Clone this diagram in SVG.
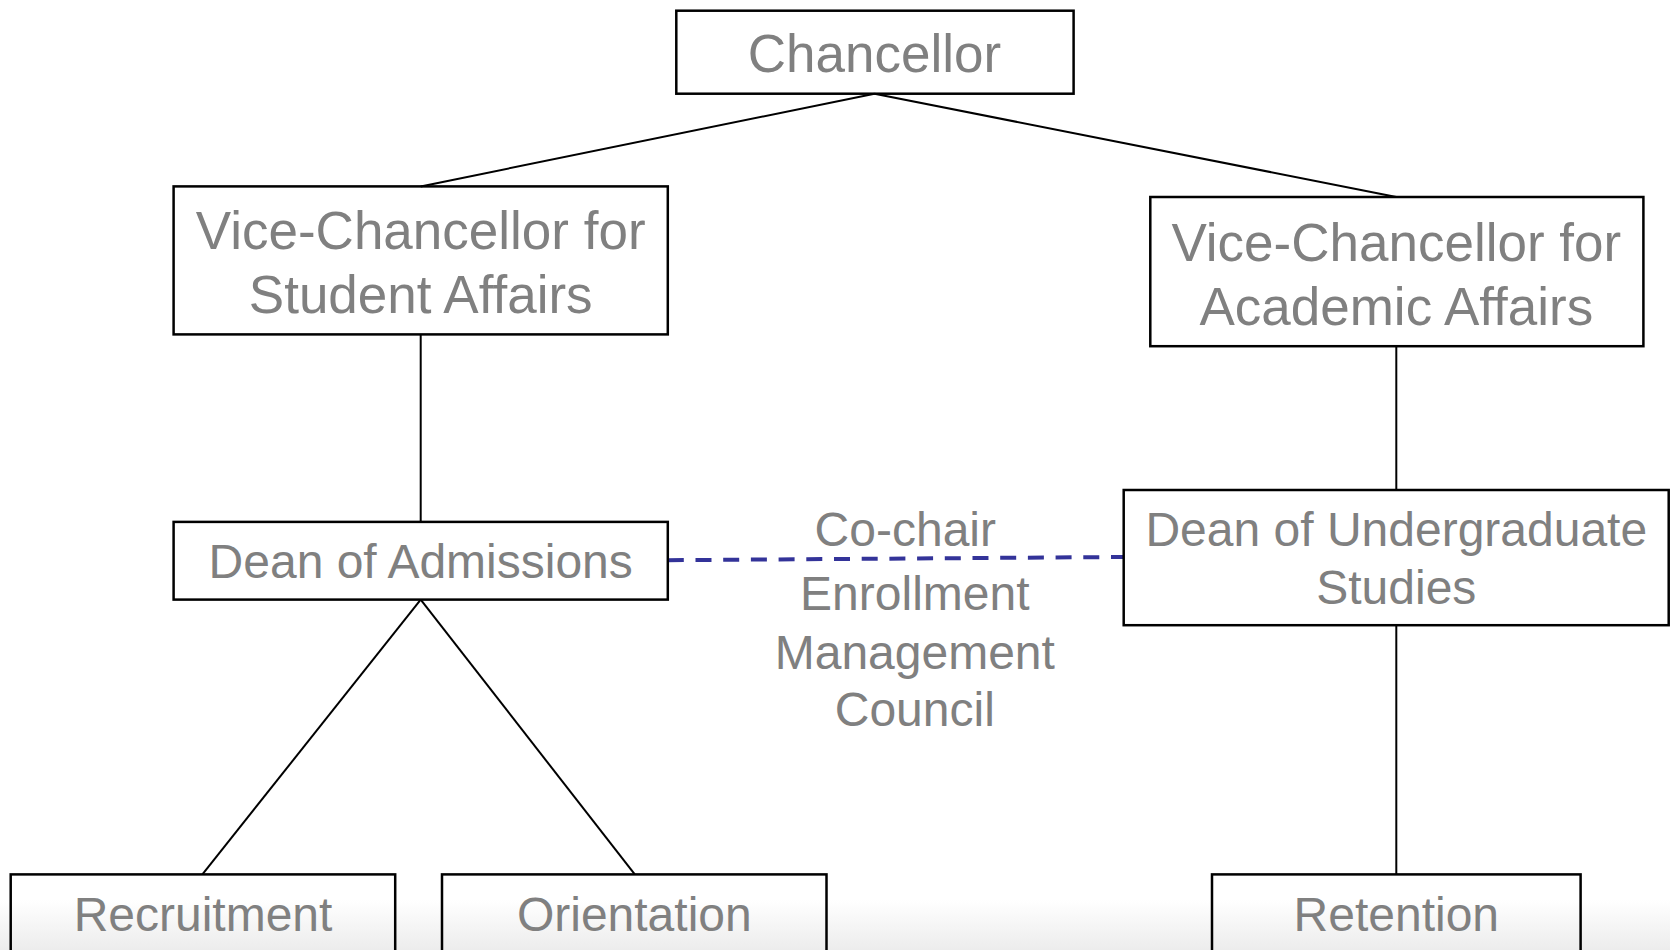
<svg xmlns="http://www.w3.org/2000/svg" width="1670" height="950" viewBox="0 0 1670 950">
<defs>
<linearGradient id="fade" x1="0" y1="0" x2="0" y2="1">
<stop offset="0" stop-color="#ffffff"/>
<stop offset="1" stop-color="#ececec"/>
</linearGradient>
<style>
.box{fill:none;stroke:#000;stroke-width:2.5}
.t{font-family:"Liberation Sans",Arial,sans-serif;fill:#808080;text-anchor:middle}
.big{font-size:53px}
.med{font-size:48px}
.ln{stroke:#000;stroke-width:2;fill:none}
.dash{stroke:#333399;stroke-width:4;stroke-dasharray:16 11.7;fill:none}
</style>
</defs>
<rect x="0" y="0" width="1670" height="950" fill="#ffffff"/>
<rect x="0" y="900" width="1670" height="50" fill="url(#fade)"/>
<g id="connectors">
<line class="ln" x1="874.5" y1="93.7" x2="420.7" y2="186.4"/>
<line class="ln" x1="874.5" y1="93.7" x2="1396.3" y2="197"/>
<line class="ln" x1="420.7" y1="334.4" x2="420.7" y2="521.9"/>
<line class="ln" x1="1396.3" y1="346.2" x2="1396.3" y2="490"/>
<line class="ln" x1="420.7" y1="599.6" x2="202.4" y2="874.4"/>
<line class="ln" x1="420.7" y1="599.6" x2="634.8" y2="874.4"/>
<line class="ln" x1="1396.3" y1="625.2" x2="1396.3" y2="874.4"/>
<line class="dash" x1="667.8" y1="560.2" x2="1123.7" y2="557"/>
</g>
<g id="chancellor">
<rect class="box" x="676.3" y="10.7" width="397.3" height="83"/>
<text class="t big" x="874.5" y="72.4">Chancellor</text>
</g>
<g id="vc-student">
<rect class="box" x="173.6" y="186.4" width="494.2" height="148"/>
<text class="t big" x="420.7" y="249.3">Vice-Chancellor for</text>
<text class="t big" x="420.7" y="313">Student Affairs</text>
</g>
<g id="vc-academic">
<rect class="box" x="1150.3" y="197" width="493.1" height="149.2"/>
<text class="t big" x="1396.3" y="261">Vice-Chancellor for</text>
<text class="t big" x="1396.3" y="324.9">Academic Affairs</text>
</g>
<g id="dean-admissions">
<rect class="box" x="173.6" y="521.9" width="494.2" height="77.7"/>
<text class="t med" x="420.7" y="578.4">Dean of Admissions</text>
</g>
<g id="dean-undergrad">
<rect class="box" x="1123.7" y="490" width="545" height="135.2"/>
<text class="t med" x="1396.3" y="546.4">Dean of Undergraduate</text>
<text class="t med" x="1396.3" y="604">Studies</text>
</g>
<g id="council-label">
<text class="t med" x="905.3" y="546.4">Co-chair</text>
<text class="t med" x="914.8" y="610.3">Enrollment</text>
<text class="t med" x="914.8" y="668.9">Management</text>
<text class="t med" x="914.8" y="726.4">Council</text>
</g>
<g id="recruitment">
<rect class="box" x="10.7" y="874.4" width="384.5" height="90"/>
<text class="t med" x="203" y="930.9">Recruitment</text>
</g>
<g id="orientation">
<rect class="box" x="442" y="874.4" width="384.5" height="90"/>
<text class="t med" x="634.3" y="930.9">Orientation</text>
</g>
<g id="retention">
<rect class="box" x="1212" y="874.4" width="368.6" height="90"/>
<text class="t med" x="1396.3" y="930.9">Retention</text>
</g>
</svg>
